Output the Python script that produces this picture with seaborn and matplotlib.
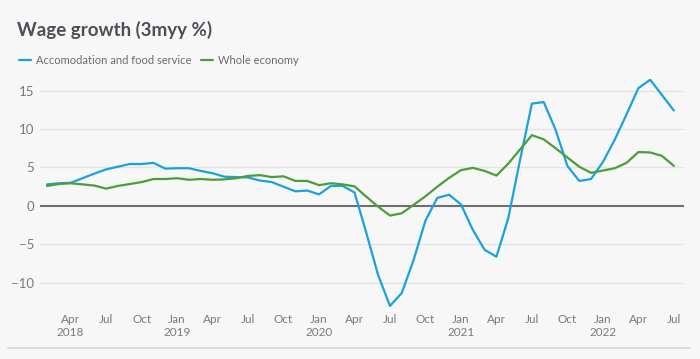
import matplotlib.pyplot as plt
import pandas as pd
import seaborn as sns
from matplotlib.lines import Line2D

# monthly data, Feb 2018 .. Jul 2022
months = pd.date_range('2018-02-01', '2022-07-01', freq='MS')

accom = [2.8, 2.95, 3.0, 3.6, 4.2, 4.75, 5.1, 5.45, 5.45, 5.6, 4.85,
         4.9, 4.9, 4.55, 4.25, 3.8, 3.75, 3.7, 3.3, 3.1, 2.5, 1.9, 2.0,
         1.5, 2.6, 2.6, 1.75, -3.5, -9.0, -13.0, -11.3, -7.0, -1.9, 1.05, 1.45,
         0.2, -3.1, -5.7, -6.6, -1.6, 6.0, 13.3, 13.5, 9.9, 5.2, 3.25, 3.5,
         5.7, 8.6, 11.9, 15.3, 16.4, 14.4, 12.4]

whole = [2.6, 2.85, 2.95, 2.8, 2.65, 2.25, 2.6, 2.85, 3.1, 3.5, 3.5,
         3.6, 3.4, 3.5, 3.4, 3.45, 3.6, 3.9, 4.0, 3.75, 3.85, 3.25, 3.25,
         2.7, 2.95, 2.8, 2.55, 1.2, -0.1, -1.25, -0.95, 0.15, 1.25, 2.5, 3.65,
         4.65, 4.95, 4.55, 3.95, 5.5, 7.35, 9.2, 8.65, 7.5, 6.3, 5.1, 4.3,
         4.6, 4.9, 5.6, 7.0, 6.95, 6.5, 5.2]

series_names = ['Accomodation and food service', 'Whole economy']
colors = ['#1ba1e2', '#4a9e3a']

# quarterly tick labels, with year under Jan (and the first Apr)
tick_pos = [i for i, m in enumerate(months) if m.month in (1, 4, 7, 10)]
tick_labels = []
for i in tick_pos:
    m = months[i]
    lab = m.strftime('%b')
    if m.month == 1 or i == tick_pos[0]:
        lab += '\n' + str(m.year)
    tick_labels.append(lab)

df = pd.DataFrame({'idx': range(len(months)),
                   series_names[0]: accom,
                   series_names[1]: whole})
long = df.melt(id_vars='idx', var_name='series', value_name='value')

sns.set_theme(style='white')
plt.rcParams['font.family'] = ['Lato', 'DejaVu Sans']
bg = '#f7f7f7'

fig = plt.figure(figsize=(7, 3.59), dpi=100, facecolor=bg)
ax = fig.add_axes([0.057, 0.137, 0.92, 0.643], facecolor=bg)

sns.lineplot(data=long, x='idx', y='value', hue='series', palette=colors,
             linewidth=1.6, ax=ax)

ax.set_xlim(-0.6, 53.85)
ax.set_ylim(-13.5, 16.5)
ax.set_yticks([-10, -5, 0, 5, 10, 15])
ax.set_yticklabels(['\u221210', '\u22125', '0', '5', '10', '15'])
ax.set_xticks(tick_pos)
ax.set_xticklabels(tick_labels)
ax.tick_params(axis='both', length=0, labelsize=8.5, labelcolor='#7a7a7a')
ax.tick_params(axis='y', pad=4, labelsize=9.5)
ax.tick_params(axis='x', pad=3)
ax.set_xlabel('')
ax.set_ylabel('')
for s in ax.spines.values():
    s.set_visible(False)
for v in [-10, -5, 5, 10, 15]:
    ax.axhline(v, color='#e3e3e3', lw=1, zorder=0)
ax.axhline(0, color='#6e6e6e', lw=1.5, zorder=1)

handles, labels = ax.get_legend_handles_labels()
ax.get_legend().remove()
fig.legend(handles, labels, loc='center left', bbox_to_anchor=(0.013, 0.832),
           ncol=2, frameon=False, handlelength=1.1, handletextpad=0.4,
           columnspacing=0.9, fontsize=8, labelcolor='#6b6b6b')

fig.text(0.024, 0.916, 'Wage growth (3myy %)', fontsize=13.5, fontweight='bold',
         color='#4b4f56', va='center', ha='left')

fig.add_artist(Line2D([0.011, 0.986], [0.031, 0.031], color='#dcdcdc', lw=1.5,
                      transform=fig.transFigure))

fig.savefig('out.png', dpi=100, facecolor=bg)
